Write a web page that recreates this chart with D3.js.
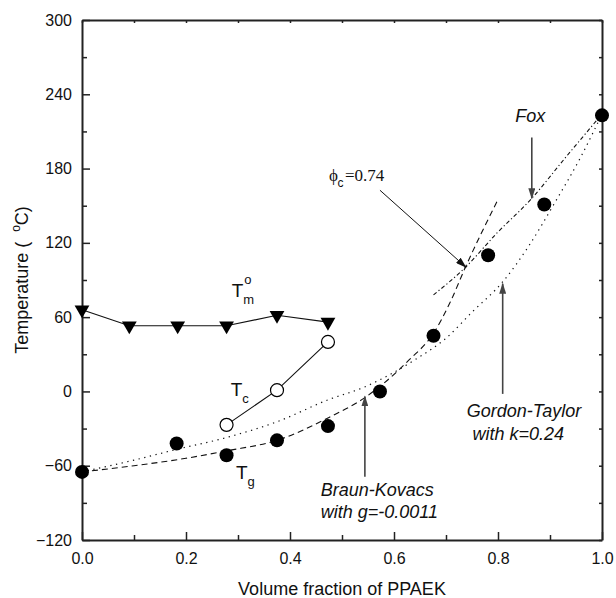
<!DOCTYPE html>
<html>
<head>
<meta charset="utf-8">
<script src="https://cdn.jsdelivr.net/npm/d3@7"></script>
<style>
  body { margin: 0; background: #fff; }
  text { font-family: Arial, "Liberation Sans", sans-serif; fill: #111; }
</style>
</head>
<body>
<svg width="616" height="598"></svg>
<script>
// data
const tgFrac = [0, 0.182, 0.278, 0.375, 0.473, 0.573, 0.676, 0.781, 0.889, 1.0];
const tgTemp = [-65, -42, -51.5, -39.5, -28, 0, 45, 110, 151, 223];

const tcFrac = [0.278, 0.375, 0.473];
const tcTemp = [-27, 1, 40];

const tmFrac = [0, 0.091, 0.184, 0.278, 0.375, 0.473];
const tmTemp = [66, 53, 53, 53, 61.5, 56];

// fitted curves
const gtFrac = [0, 0.1, 0.18, 0.28, 0.375, 0.475, 0.54, 0.64, 0.7, 0.75, 0.81, 0.86, 0.91, 0.96, 1.0];
const gtTemp = [-65, -55.5, -47, -37, -24.5, -6.5, 3, 25.5, 43, 64, 89, 118, 153, 190, 224];

const bkFrac = [0, 0.1, 0.2, 0.278, 0.375, 0.475, 0.544, 0.628, 0.676, 0.708, 0.737, 0.8];
const bkTemp = [-65, -60, -54, -48, -39.5, -21, -5, 25, 47, 72, 100, 155];

const foxFrac = [0.676, 0.738, 0.797, 0.865, 0.93, 1.0];
const foxTemp = [78, 100.5, 127.5, 156, 189, 224];

const xTicks = [0, 0.2, 0.4, 0.6, 0.8, 1.0];
const yTicks = [-120, -60, 0, 60, 120, 180, 240, 300];

const svg = d3.select("svg");
const pLeft = 82, pRight = 602, pTop = 20, pBottom = 540;

const x = d3.scaleLinear().domain([0, 1]).range([pLeft, pRight]);
const y = d3.scaleLinear().domain([-120, 300]).range([pBottom, pTop]);

const zip = (a, b) => a.map((v, i) => [v, b[i]]);

// arrow heads
const defs = svg.append("defs");
function arrowDef(id, color) {
  defs.append("marker")
    .attr("id", id)
    .attr("markerUnits", "userSpaceOnUse")
    .attr("markerWidth", 11).attr("markerHeight", 7)
    .attr("refX", 10).attr("refY", 3.5)
    .attr("orient", "auto")
    .append("path")
    .attr("d", "M0,0 L11,3.5 L0,7 Z")
    .attr("fill", color);
}
arrowDef("headGray", "#444");
arrowDef("headBlack", "#111");

// axes
function styleAxis(g, w) {
  g.selectAll(".domain").attr("stroke", "#222").attr("stroke-width", w);
  g.selectAll(".tick line").attr("stroke", "#222").attr("stroke-width", 1.5);
  g.selectAll(".tick text").style("font-size", "16px").attr("fill", "#111");
}

const xMinor = d3.range(0.1, 1, 0.2);
const yMinor = d3.range(-90, 300, 60);

svg.append("g").attr("transform", "translate(0," + pBottom + ")")
  .call(d3.axisBottom(x).tickValues(xMinor).tickSize(-5).tickSizeOuter(0).tickFormat(""))
  .call(g => g.select(".domain").remove())
  .call(g => styleAxis(g, 2));
svg.append("g").attr("transform", "translate(0," + pBottom + ")")
  .call(d3.axisBottom(x).tickValues(xTicks).tickSize(-8).tickSizeOuter(0).tickPadding(13).tickFormat(d3.format(".1f")))
  .call(g => styleAxis(g, 2));

svg.append("g").attr("transform", "translate(" + pLeft + ",0)")
  .call(d3.axisLeft(y).tickValues(yMinor).tickSize(-5).tickSizeOuter(0).tickFormat(""))
  .call(g => g.select(".domain").remove())
  .call(g => styleAxis(g, 2));
svg.append("g").attr("transform", "translate(" + pLeft + ",0)")
  .call(d3.axisLeft(y).tickValues(yTicks).tickSize(-8).tickSizeOuter(0).tickPadding(10))
  .call(g => styleAxis(g, 2));

svg.append("g").attr("transform", "translate(0," + pTop + ")")
  .call(d3.axisTop(x).tickValues(d3.range(0, 1.01, 0.1)).tickSize(-3).tickSizeOuter(0).tickFormat(""))
  .call(g => styleAxis(g, 2));
svg.append("g").attr("transform", "translate(" + pRight + ",0)")
  .call(d3.axisRight(y).tickValues(d3.range(-120, 301, 30)).tickSize(-3).tickSizeOuter(0).tickFormat(""))
  .call(g => styleAxis(g, 2));

// axis titles
svg.append("text")
  .attr("x", (pLeft + pRight) / 2).attr("y", 595)
  .attr("text-anchor", "middle")
  .style("font-size", "18px")
  .text("Volume fraction of PPAEK");

const yTitle = svg.append("text")
  .attr("transform", "translate(28," + (pTop + pBottom) / 2 + ") rotate(-90)")
  .attr("text-anchor", "middle")
  .style("font-size", "18px");
yTitle.append("tspan").text("Temperature (\u00a0\u00a0");
yTitle.append("tspan").attr("dy", -8).style("font-size", "12px").text("o");
yTitle.append("tspan").attr("dy", 8).text("C)");

// fitted curves
const line = d3.line().x(d => x(d[0])).y(d => y(d[1])).curve(d3.curveMonotoneX);
const plot = svg.append("g");

plot.append("path").attr("d", line(zip(gtFrac, gtTemp)))
  .attr("fill", "none").attr("stroke", "#111").attr("stroke-width", 1.2)
  .attr("stroke-dasharray", "1.3,4.5");
plot.append("path").attr("d", line(zip(bkFrac, bkTemp)))
  .attr("fill", "none").attr("stroke", "#111").attr("stroke-width", 1.1)
  .attr("stroke-dasharray", "6,4");
plot.append("path").attr("d", line(zip(foxFrac, foxTemp)))
  .attr("fill", "none").attr("stroke", "#111").attr("stroke-width", 1.1)
  .attr("stroke-dasharray", "4,2.5,1.2,2.5");

// connecting lines
const straight = d3.line().x(d => x(d[0])).y(d => y(d[1]));
plot.append("path").attr("d", straight(zip(tmFrac, tmTemp)))
  .attr("fill", "none").attr("stroke", "#111").attr("stroke-width", 1.1);
plot.append("path").attr("d", straight(zip(tcFrac, tcTemp)))
  .attr("fill", "none").attr("stroke", "#111").attr("stroke-width", 1.1);

// markers
plot.selectAll(".tm").data(zip(tmFrac, tmTemp)).enter().append("path")
  .attr("class", "tm")
  .attr("d", d3.symbol(d3.symbolTriangle, 95))
  .attr("transform", d => "translate(" + x(d[0]) + "," + y(d[1]) + ") rotate(180)")
  .attr("fill", "#000");

plot.selectAll(".tc").data(zip(tcFrac, tcTemp)).enter().append("circle")
  .attr("class", "tc")
  .attr("cx", d => x(d[0])).attr("cy", d => y(d[1])).attr("r", 6.5)
  .attr("fill", "#fff").attr("stroke", "#000").attr("stroke-width", 1.2);

plot.selectAll(".tg").data(zip(tgFrac, tgTemp)).enter().append("circle")
  .attr("class", "tg")
  .attr("cx", d => x(d[0])).attr("cy", d => y(d[1])).attr("r", 7)
  .attr("fill", "#000");

// series labels
function tLabel(fx, ty, sub, sup) {
  const px = x(fx), py = y(ty);
  svg.append("text").attr("x", px).attr("y", py).style("font-size", "19px").text("T");
  svg.append("text").attr("x", px + 11.5).attr("y", py + 7).style("font-size", "13px").text(sub);
  if (sup) svg.append("text").attr("x", px + 12.5).attr("y", py - 13).style("font-size", "13px").text(sup);
}
tLabel(0.288, 76.5, "m", "o");
tLabel(0.286, -3.7, "c");
tLabel(0.296, -71, "g");

// arrows
function arrow(x1, y1, x2, y2, color, w, head) {
  svg.append("line")
    .attr("x1", x(x1)).attr("y1", y(y1)).attr("x2", x(x2)).attr("y2", y(y2))
    .attr("stroke", color).attr("stroke-width", w)
    .attr("marker-end", "url(#" + head + ")");
}
arrow(0.865, 205, 0.865, 156, "#444", 1.6, "headGray");
arrow(0.544, -69, 0.544, -4, "#444", 1.6, "headGray");
arrow(0.809, -2, 0.809, 87, "#444", 1.6, "headGray");
arrow(0.573, 162.5, 0.738, 100.5, "#111", 1, "headBlack");

// annotation texts
function italic(fx, ty, str) {
  svg.append("text").attr("x", x(fx)).attr("y", y(ty))
    .style("font-size", "18px").style("font-style", "italic").text(str);
}
italic(0.833, 218, "Fox");
italic(0.740, -20.4, "Gordon-Taylor");
italic(0.751, -39.2, "with k=0.24");
italic(0.459, -84.5, "Braun-Kovacs");
italic(0.459, -102.5, "with g=-0.0011");

const phi = svg.append("g");
phi.append("text").attr("x", x(0.475)).attr("y", y(170.2))
  .style("font-family", "'Liberation Serif', 'DejaVu Serif', serif").style("font-size", "17px").text("\u03d5");
phi.append("text").attr("x", x(0.475) + 8.5).attr("y", y(170.2) + 6)
  .style("font-size", "12px").text("c");
phi.append("text").attr("x", x(0.475) + 16).attr("y", y(170.2))
  .style("font-family", "'Liberation Serif', 'DejaVu Serif', serif").style("font-size", "17px").text("=0.74");
</script>
</body>
</html>
